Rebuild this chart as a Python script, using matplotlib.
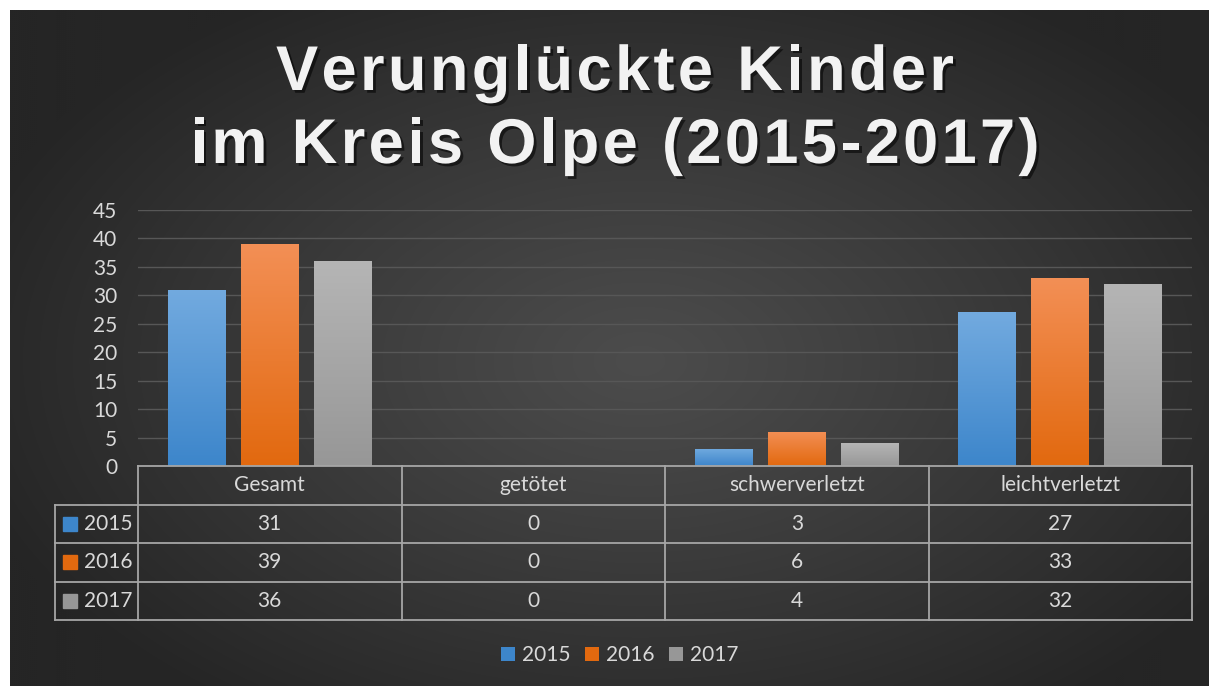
import numpy as np
import matplotlib
matplotlib.use('Agg')
import matplotlib.pyplot as plt
import matplotlib.patheffects as pe
from matplotlib.patches import Patch
from matplotlib.font_manager import FontProperties, findfont, get_font

plt.rcParams['font.family'] = ['Lato', 'DejaVu Sans']

# data
categories = ['Gesamt', 'getötet', 'schwerverletzt', 'leichtverletzt']
years = ['2015', '2016', '2017']
v2015 = [31, 0, 3, 27]
v2016 = [39, 0, 6, 33]
v2017 = [36, 0, 4, 32]
series = [v2015, v2016, v2017]
title_lines = ['Verunglückte Kinder', 'im Kreis Olpe (2015-2017)']

tops = ['#72aadf', '#f38f55', '#b5b5b5']
bottoms = ['#3d86cb', '#e2690f', '#979797']
txt = '#d9d9d9'
line_c = '#a6a6a6'
fs = 15

W, H = 1209, 686
fig = plt.figure(figsize=(W / 100, H / 100), dpi=100)
fig.patch.set_facecolor('white')

# background panel with radial gradient
bg = fig.add_axes([0, 0, 1, 1], zorder=-10)
bg.set_xlim(0, W)
bg.set_ylim(H, 0)
bg.axis('off')
yy, xx = np.mgrid[10:H:2, 10:W:2]
r = np.sqrt(((xx - 640) / 700.0) ** 2 + ((yy - 360) / 430.0) ** 2)
r = np.clip(r, 0, 1)
c0 = np.array([0x4c, 0x4c, 0x4c]) / 255
c1 = np.array([0x25, 0x25, 0x25]) / 255
img = c0 + (c1 - c0) * (r[..., None] ** 1.1)
bg.imshow(img, extent=(10, W, H, 10), aspect='auto', interpolation='bilinear')

# title, letter by letter to get the wider tracking
title_fs = 45.5
track = 3.3  # extra px between letters
fp = FontProperties(family='Liberation Sans', weight='bold', size=title_fs)
font = get_font(findfont(fp))
font.set_size(title_fs, 100)
shadow = [pe.withSimplePatchShadow(offset=(2, -2), shadow_rgbFace='black', alpha=0.55)]
for k, line in enumerate(title_lines):
    adv = [font.load_char(ord(ch)).linearHoriAdvance / 65536 for ch in line]
    total = sum(adv) + track * (len(line) - 1)
    xpos = 615 - total / 2
    for ch, a in zip(line, adv):
        if ch != ' ':
            t = fig.text(xpos / W, 1 - (90 + 73 * k) / H, ch, ha='left', va='baseline',
                         fontproperties=fp, color='#f2f2f2')
            t.set_path_effects(shadow)
        xpos += a + track

# chart area
ax = fig.add_axes([138 / W, 1 - 466 / H, (1192 - 138) / W, 256 / H])
ax.set_facecolor('none')
x = np.arange(len(categories))
offsets = [-0.277, 0, 0.277]
bw = 0.22
grad = np.linspace(0, 1, 100).reshape(-1, 1)
for vals, off, ct, cb in zip(series, offsets, tops, bottoms):
    bars = ax.bar(x + off, vals, width=bw, color=cb, zorder=3)
    cmap = matplotlib.colors.LinearSegmentedColormap.from_list('g', [cb, ct])
    for b in bars:
        h = b.get_height()
        if h <= 0:
            continue
        im = ax.imshow(grad, cmap=cmap, extent=(b.get_x(), b.get_x() + bw, 0, h),
                       origin='lower', aspect='auto', zorder=4)
        im.set_clip_path(b)

ax.set_xlim(-0.5, len(categories) - 0.5)
ax.set_ylim(0, 45)
ax.set_yticks(range(0, 50, 5))
ax.set_xticks([])
ax.tick_params(axis='y', length=0, pad=15, labelsize=fs, labelcolor=txt)
ax.yaxis.grid(True, color='#575757', lw=1)
ax.set_axisbelow(True)
for s in ax.spines.values():
    s.set_visible(False)

# data table
tr = ax.get_xaxis_transform()
rh = 0.1504
xl = -0.5 - 83 / 263.5
xr = len(categories) - 0.5
kw = dict(transform=tr, clip_on=False, color=line_c, lw=1.3, zorder=5)
ax.plot([-0.5, xr], [0, 0], **kw)
for k in range(1, 5):
    ax.plot([xl, xr], [-k * rh, -k * rh], **kw)
ax.plot([xl, xl], [-rh, -4 * rh], **kw)
for b in np.arange(-0.5, xr + 0.01, 1):
    ax.plot([b, b], [0, -4 * rh], **kw)

for i, c in enumerate(categories):
    ax.text(i, -0.5 * rh, c, transform=tr, ha='center', va='center', fontsize=fs, color=txt)
    for j, vals in enumerate(series):
        ax.text(i, -(j + 1.5) * rh, str(vals[i]), transform=tr, ha='center', va='center',
                fontsize=fs, color=txt)
for j, y in enumerate(years):
    ax.plot([-0.5 - 68.5 / 263.5], [-(j + 1.5) * rh], marker='s', ms=9.5, color=bottoms[j],
            transform=tr, clip_on=False)
    ax.text(-0.5 - 54 / 263.5, -(j + 1.5) * rh, y, transform=tr, ha='left', va='center',
            fontsize=fs, color=txt)

# legend
handles = [Patch(facecolor=bottoms[j], edgecolor='none', label=years[j]) for j in range(3)]
fig.legend(handles=handles, loc='center', bbox_to_anchor=(620 / W, 1 - 655 / H), ncol=3,
           frameon=False, fontsize=fs, labelcolor=txt, handlelength=0.65, handleheight=0.65,
           handletextpad=0.35, columnspacing=0.7)

fig.savefig('out.png', dpi=100)
